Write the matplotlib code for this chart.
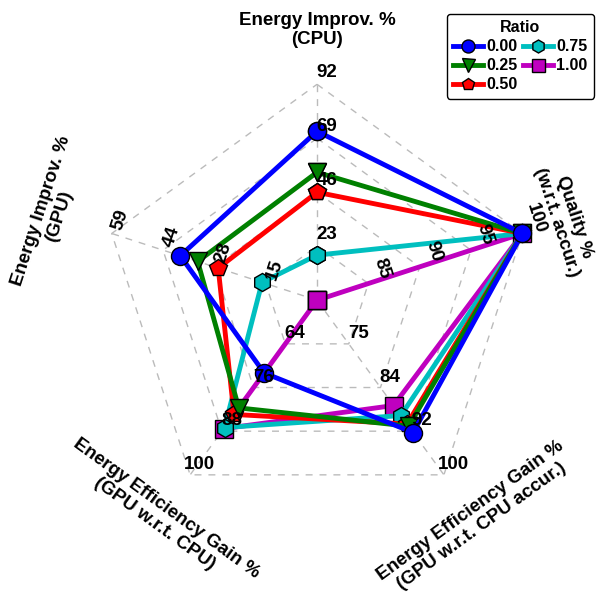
import numpy as np
import matplotlib
matplotlib.use('Agg')
import matplotlib.pyplot as plt

plt.rcParams['font.family'] = ['Liberation Sans', 'DejaVu Sans']
plt.rcParams['font.weight'] = 'bold'

# radar axes, clockwise from the top
axis_names = ['Energy Improv. %\n(CPU)',
              'Quality %\n(w.r.t. accur.)',
              'Energy Efficiency Gain %\n(GPU w.r.t. CPU accur.)',
              'Energy Efficiency Gain %\n(GPU w.r.t. CPU)',
              'Energy Improv. %\n(GPU)']
axis_min = [0, 80, 67, 52, 0]
axis_max = [92, 100, 100, 100, 59]
tick_labels = [['23', '46', '69', '92'],
               ['85', '90', '95', '100'],
               ['75', '84', '92', '100'],
               ['64', '76', '88', '100'],
               ['15', '28', '44', '59']]

# one series per ratio
ratios = ['0.00', '0.25', '0.50', '0.75', '1.00']
ratio_000 = [72.0, 100, 92.0, 72.0, 39.3]
ratio_025 = [54.5, 100, 90.8, 81.6, 34.3]
ratio_050 = [46.0, 100, 90.4, 83.4, 28.4]
ratio_075 = [19.2, 100, 88.8, 87.0, 15.8]
ratio_100 = [0.0, 100, 86.9, 87.3, 0.0]
series = [ratio_000, ratio_025, ratio_050, ratio_075, ratio_100]

colors = ['#0000ff', '#008000', '#ff0000', '#00bfbf', '#bf00bf']
markers = ['o', 'v', 'p', 'h', 's']

n = len(axis_names)
angles = np.arange(n) * 2 * np.pi / n
angles_closed = np.append(angles, angles[0])

def scale(vals):
    vals = np.array(vals, dtype=float)
    return (vals - np.array(axis_min)) / (np.array(axis_max) - np.array(axis_min))

fig = plt.figure(figsize=(6.01, 5.98), dpi=100)
ax = fig.add_axes([0.168, 0.137, 0.719, 0.722], projection='polar')
ax.set_theta_offset(np.pi / 2)
ax.set_theta_direction(-1)
ax.set_ylim(0, 1)
ax.set_axis_off()

# dashed pentagon grid and spokes
for k in range(1, 5):
    ax.plot(angles_closed, [k / 4] * (n + 1), ls=(0, (5, 5)), color='#bbbbbb', lw=1, zorder=1, clip_on=False)
for a in angles:
    ax.plot([a, a], [0, 1], ls=(0, (5, 5)), color='#bbbbbb', lw=1, zorder=1, clip_on=False)

# series, last ratio drawn first
lines = []
for vals, c, m in zip(series[::-1], colors[::-1], markers[::-1]):
    r = scale(vals)
    ln, = ax.plot(angles_closed, np.append(r, r[0]), color=c, lw=3.5, marker=m, ms=13,
                  mec='black', mew=1, clip_on=False, zorder=2)
    lines.append(ln)
lines = lines[::-1]

# tick labels along every axis
tick_rot = [0, -72, 0, 0, 72]
tick_off = [(7, 8.5), (10, 11), (7, 7.5), (7, 7.5), (6.5, 10)]
for i in range(n):
    for k, lab in enumerate(tick_labels[i]):
        ax.annotate(lab, xy=(angles[i], (k + 1) / 4), xytext=tick_off[i], textcoords='offset points',
                    ha='center', va='center', rotation=tick_rot[i], fontsize=13.5,
                    fontweight='bold', zorder=5, annotation_clip=False)

# axis titles
name_rot = [0, -72, 36, -36, 72]
name_r = [1.25, 1.21, 1.25, 1.235, 1.30]
for i in range(n):
    ax.text(angles[i], name_r[i], axis_names[i], ha='center', va='center', rotation=name_rot[i],
            rotation_mode='anchor', multialignment='center', fontsize=13.5, fontweight='bold',
            linespacing=1.15)

leg = fig.legend(lines, ratios, title='Ratio', loc='upper right', bbox_to_anchor=(0.988, 0.977),
                 ncol=2, fontsize=11.5, title_fontsize=11.5, edgecolor='black', fancybox=True,
                 handlelength=1.9, handletextpad=0.2, columnspacing=0.3, borderpad=0.4,
                 labelspacing=0.25, markerscale=0.72, borderaxespad=0, framealpha=1)
leg.get_title().set_fontweight('bold')
leg.get_frame().set_linewidth(1)

fig.savefig('out.png', dpi=100)
